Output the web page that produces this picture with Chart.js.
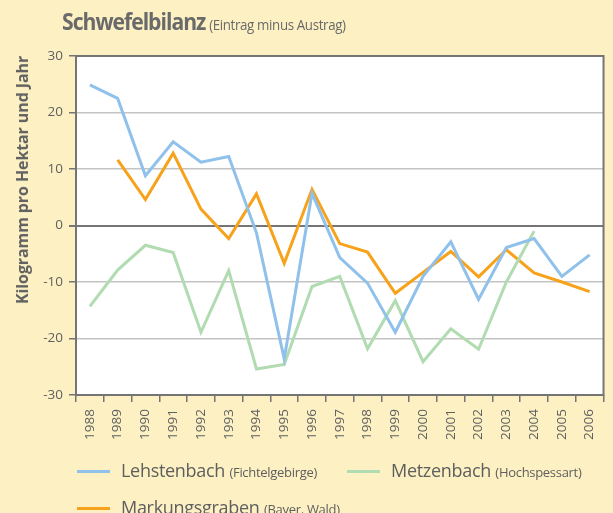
<!DOCTYPE html>
<html><head><meta charset="utf-8">
<script src="https://cdn.jsdelivr.net/npm/chart.js@4/dist/chart.umd.min.js"></script>
<style>
html,body{margin:0;padding:0;background:#fdf1c4;}
#wrap{position:relative;width:613px;height:513px;overflow:hidden;background:#fdf1c4;font-family:"Open Sans",sans-serif;color:#636363;}
canvas{position:absolute;left:0;top:0;}
.title{position:absolute;left:62px;top:5px;white-space:nowrap;transform:scaleX(0.92);transform-origin:0 0;}
.title b{font-size:23px;font-weight:700;letter-spacing:-1.1px;color:#6a6a6a;}
.title span{font-size:14.5px;color:#6a6a6a;letter-spacing:-0.4px;}
.ytitle{position:absolute;left:22px;top:180px;transform:translate(-50%,-50%) rotate(-90deg);white-space:nowrap;font-size:16px;font-weight:700;color:#616161;letter-spacing:-0.1px;}
.leg{position:absolute;white-space:nowrap;}
.leg i{position:absolute;left:0;width:33px;height:3px;top:0;}
.leg b{position:absolute;left:44px;top:-12px;font-weight:400;font-size:18px;color:#5e5e5e;letter-spacing:-0.3px;}
.leg b small{font-size:13px;letter-spacing:-0.3px;}
</style></head>
<body><div id="wrap">
<canvas id="c" width="613" height="513"></canvas>
<div class="title"><b>Schwefelbilanz</b> <span>(Eintrag minus Austrag)</span></div>
<div class="ytitle">Kilogramm pro Hektar und Jahr</div>
<div id="legend"></div>
</div>
<script>
const years = ["1988","1989","1990","1991","1992","1993","1994","1995","1996","1997","1998","1999","2000","2001","2002","2003","2004","2005","2006"];
const lehstenbach = [24.9,22.5,8.8,14.8,11.2,12.2,-1.3,-23.6,5.7,-5.7,-10.2,-18.9,-9.0,-2.9,-13.1,-3.9,-2.3,-9.0,-5.2];
const metzenbach = [-14.3,-7.9,-3.5,-4.8,-18.9,-8.0,-25.4,-24.6,-10.8,-9.0,-21.8,-13.3,-24.1,-18.3,-21.9,-10.0,-1.0,null,null];
const markungsgraben = [null,11.6,4.6,12.8,2.9,-2.3,5.6,-6.7,6.4,-3.2,-4.7,-12.0,-8.3,-4.6,-9.1,-4.3,-8.4,-10.0,-11.7];
const yTicks = [-30,-20,-10,0,10,20,30];
const seriesNames = ["Lehstenbach","Metzenbach","Markungsgraben"];
const seriesNotes = ["(Fichtelgebirge)","(Hochspessart)","(Bayer. Wald)"];
const colors = ["#8fc1ea","#b1dbb0","#f7a21b"];

const legendPos = [[77,470],[347,470],[77,507]];
const lg = document.getElementById('legend');
seriesNames.forEach((n,i)=>{
  const d=document.createElement('div');d.className='leg';
  d.style.left=legendPos[i][0]+'px';d.style.top=legendPos[i][1]+'px';
  d.innerHTML='<i style="background:'+colors[i]+'"></i><b>'+n+' <small>'+seriesNotes[i]+'</small></b>';
  lg.appendChild(d);
});

const frame = {
  id:'frame',
  beforeDraw(ch){const a=ch.chartArea,c=ch.ctx;c.save();c.fillStyle='#ffffff';c.fillRect(a.left,a.top,a.right-a.left,a.bottom-a.top);c.restore();},
  afterDatasetsDraw(ch){const a=ch.chartArea,c=ch.ctx;c.save();c.strokeStyle='#757575';c.lineWidth=2;c.strokeRect(a.left,a.top,a.right-a.left,a.bottom-a.top);c.restore();}
};

new Chart(document.getElementById('c'),{
  type:'line',
  data:{labels:years,datasets:[
    {data:lehstenbach,borderColor:colors[0]},
    {data:metzenbach,borderColor:colors[1]},
    {data:markungsgraben,borderColor:colors[2]}
  ].map((d,i)=>Object.assign(d,{label:seriesNames[i],borderWidth:3,pointRadius:0,tension:0,fill:false,spanGaps:false,borderJoinStyle:'miter'}))},
  options:{
    responsive:false,animation:false,
    layout:{padding:{left:0,top:56,right:6,bottom:0}},
    plugins:{legend:{display:false},tooltip:{enabled:false}},
    scales:{
      x:{offset:true,
        grid:{offset:true,drawOnChartArea:false,tickLength:7,color:'#757575',lineWidth:1.5},
        border:{display:false},
        ticks:{minRotation:90,maxRotation:90,autoSkip:false,padding:7,color:'#5f5f5f',font:{family:'Open Sans',size:13.5}},
        afterFit(s){s.height=118;}
      },
      y:{min:-30,max:30,
        afterBuildTicks(s){s.ticks=yTicks.map(v=>({value:v}));},
        grid:{tickLength:7,
          color:c=>(c.tick&&(c.tick.value===0||c.tick.value===30))?'#757575':'#c4c4c4',
          lineWidth:c=>(c.tick&&c.tick.value===0)?2:1.5,
          tickColor:'#757575'},
        border:{display:false},
        ticks:{padding:6,color:'#5f5f5f',font:{family:'Open Sans',size:13.5}},
        afterFit(s){s.width=76;}
      }
    }
  },
  plugins:[frame]
});
</script>
</body></html>
